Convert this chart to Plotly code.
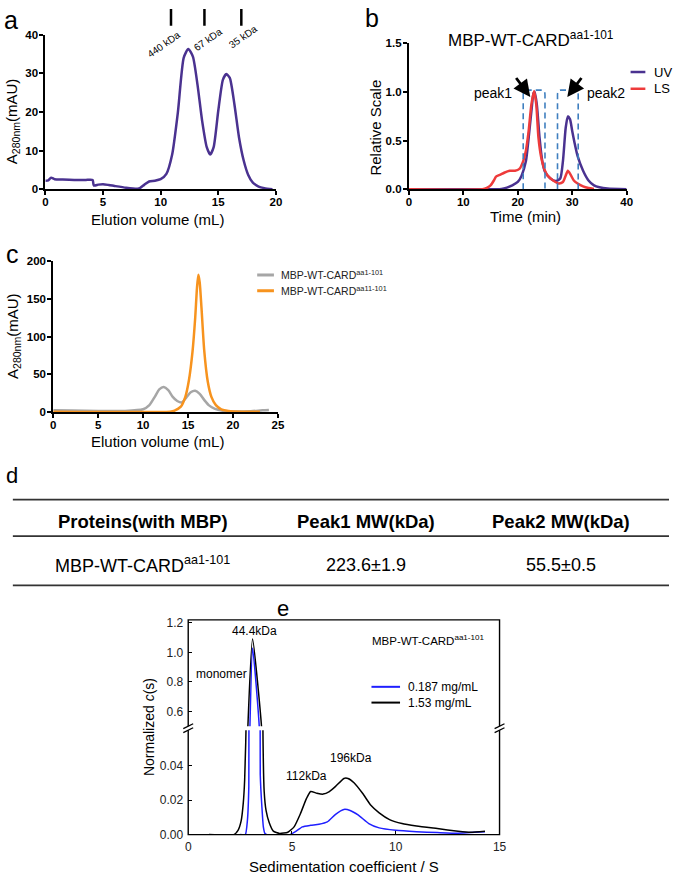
import plotly.graph_objects as go

W, H = 676, 883
def px(x): return x / W
def py(y): return 1 - y / H

FONT = "Liberation Sans, Arial, sans-serif"

# ---------------- data ----------------
# panel a: SEC of MBP-WT-CARD aa1-101
a_vol = [0, 0.25, 0.5, 0.8, 1.5, 2.5, 3.5, 4.1, 4.2, 4.6, 5.0, 5.5, 6.0, 7.0, 8.0, 8.2, 8.6, 9.0, 9.5, 10.0,
         10.5, 11.0, 11.5, 12.0, 12.4, 12.8, 13.2, 13.6, 14.0, 14.3, 14.6, 15.0, 15.4, 15.7, 16.0, 16.4,
         16.8, 17.2, 17.6, 18.0, 18.5, 19.0, 19.7]
a_abs = [2.2, 2.3, 3.0, 2.6, 2.5, 2.4, 2.4, 2.4, 1.0, 1.2, 1.3, 1.1, 0.85, 0.4, 0.15, 0.3, 1.2, 2.0, 2.2, 2.6,
         4.0, 9.0, 20.0, 34.0, 36.3, 34.3, 27.0, 17.7, 10.9, 9.0, 10.9, 20.3, 28.3, 29.8, 28.8, 22.0,
         13.4, 7.5, 3.7, 1.7, 0.7, 0.3, 0.0]
std_vol = [10.9, 13.8, 17.0]
std_labels = ["440 kDa", "67 kDa", "35 kDa"]

# panel b: SEC-MALS
b_time_uv = [0, 16, 17, 18, 19, 20, 20.7, 21.5, 22, 22.5, 22.9, 23.1, 23.5, 24, 24.5, 25, 26, 27, 27.8,
             28.3, 28.8, 29.2, 29.6, 30, 30.5, 31, 32, 33, 34, 35, 36.5, 40]
b_uv = [0, 0, 0.003, 0.017, 0.04, 0.075, 0.14, 0.29, 0.53, 0.8, 0.99, 1.0, 0.87, 0.53, 0.29, 0.18, 0.11,
        0.085, 0.11, 0.29, 0.63, 0.75, 0.72, 0.6, 0.46, 0.34, 0.19, 0.09, 0.04, 0.02, 0.007, 0]
b_time_ls = [0, 13.5, 14.3, 15, 15.6, 16, 16.8, 17.5, 18.5, 19.5, 20.3, 21, 21.5, 22, 22.5, 23, 23.4,
             23.8, 24.3, 25, 25.5, 26.5, 27.5, 28.3, 28.8, 29.2, 29.7, 30.3, 31, 32, 33, 34]
b_ls = [0, 0, 0.013, 0.04, 0.09, 0.13, 0.15, 0.17, 0.19, 0.19, 0.21, 0.29, 0.4, 0.6, 0.87, 1.01, 0.87,
        0.53, 0.33, 0.19, 0.14, 0.09, 0.06, 0.075, 0.14, 0.19, 0.15, 0.09, 0.06, 0.03, 0.013, 0.003]
peak_boxes = [(21.0, 25.0), (27.3, 31.1)]

# panel c: SEC comparison
c_vol_1 = [0, 2, 5, 8, 10, 10.7, 11.3, 11.8, 12.3, 12.8, 13.3, 13.8, 14.3, 14.8, 15.3, 15.8, 16.3, 16.8,
           17.3, 18, 19, 20, 22, 23.3, 24]
c_abs_1 = [2.2, 1.8, 1.3, 1.3, 3.5, 9, 20, 30, 33, 29, 20, 14.5, 12.5, 19, 26, 28, 24, 16, 9, 4, 1.3, 0.5,
           0.9, 2.2, 2.6]
c_vol_2 = [0, 13, 13.5, 14.2, 14.7, 15.1, 15.5, 15.8, 16.0, 16.15, 16.3, 16.5, 16.8, 17.2, 17.6, 18.1,
           18.7, 19.5, 21, 23]
c_abs_2 = [0.4, 0.4, 1.8, 7, 20, 42, 80, 125, 165, 182, 172, 138, 82, 40, 20, 9, 3.5, 1.3, 0.4, 0.4]

# panel d: table
tbl_header = ["Proteins(with MBP)", "Peak1 MW(kDa)", "Peak2 MW(kDa)"]
tbl_row = ["MBP-WT-CARD<sup>aa1-101</sup>", "223.6±1.9", "55.5±0.5"]

# panel e: AUC c(s)
e_s_hi = [1.0, 2.2, 2.4, 2.55, 2.65, 2.72, 2.8, 2.87, 3.1, 3.54, 3.6, 3.66, 3.75, 3.9, 4.1, 4.4, 4.8,
          5.1, 5.4, 5.7, 5.9, 6.2, 6.5, 6.8, 7.1, 7.5, 7.7, 8.0, 8.4, 8.8, 9.2, 9.7, 10.3, 11, 12, 13,
          13.6, 14.3]
e_c_hi = [0, 0, 0.0025, 0.008, 0.018, 0.032, 0.07, 0.48, 1.09, 0.48, 0.06, 0.025, 0.014, 0.007, 0.002,
          0.0007, 0.0014, 0.0045, 0.012, 0.021, 0.025, 0.024, 0.0235, 0.025, 0.028, 0.0326, 0.0326, 0.030,
          0.024, 0.017, 0.0126, 0.0087, 0.0064, 0.005, 0.0035, 0.002, 0.0014, 0.002]
e_s_lo = [2.5, 2.75, 2.85, 2.92, 2.97, 3.1, 3.43, 3.47, 3.55, 3.62, 3.7, 3.8, 4.9, 5.2, 5.5, 5.9, 6.3,
          6.7, 7.1, 7.5, 7.8, 8.2, 8.7, 9.2, 10, 11, 12, 13, 14.3]
e_c_lo = [0, 0, 0.008, 0.028, 0.48, 1.03, 0.48, 0.035, 0.016, 0.0045, 0.0006, 0, 0, 0.002, 0.0045,
          0.0054, 0.006, 0.0074, 0.0118, 0.0146, 0.014, 0.0113, 0.0064, 0.0039, 0.0025, 0.0017, 0.0012,
          0.0008, 0.0016]

# ---------------- figure ----------------
PURPLE = "#4a3290"
RED = "#ee3b3b"
GRAY = "#a6a6a6"
ORANGE = "#f7931e"
BLUE = "#1f1fff"
BOXC = "#3f7fbf"

fig = go.Figure()

def line_trace(x, y, color, width, xa, ya, smoothing=0.6):
    return go.Scatter(x=x, y=y, mode="lines", showlegend=False, hoverinfo="skip",
                      line=dict(color=color, width=width, shape="spline", smoothing=smoothing),
                      xaxis=xa, yaxis=ya)

fig.add_trace(line_trace(a_vol, a_abs, PURPLE, 2.5, "x", "y"))
fig.add_trace(line_trace(b_time_uv, b_uv, PURPLE, 2.5, "x2", "y2"))
fig.add_trace(line_trace(b_time_ls, b_ls, RED, 2.5, "x2", "y2"))
fig.add_trace(line_trace(c_vol_1, c_abs_1, GRAY, 2.5, "x3", "y3"))
fig.add_trace(line_trace(c_vol_2, c_abs_2, ORANGE, 2.5, "x3", "y3"))
for ya in ("y4", "y5"):
    fig.add_trace(line_trace(e_s_lo, e_c_lo, BLUE, 1.5, "x4", ya, 0.5))
    fig.add_trace(line_trace(e_s_hi, e_c_hi, "black", 1.5, "x4", ya, 0.5))

bold_tick = dict(family=FONT, size=11.5, color="black", weight="bold")
def prism_axis(domain, rng, anchor, tickvals, ticktext=None, standoff=0):
    d = dict(domain=domain, range=rng, anchor=anchor, showline=True, linecolor="black", linewidth=2,
             ticks="outside", ticklen=4, tickwidth=2, tickcolor="black", tickvals=tickvals,
             tickfont=bold_tick, showgrid=False, zeroline=False, fixedrange=True,
             ticklabelstandoff=standoff)
    if ticktext is not None:
        d["ticktext"] = ticktext
    return d

e_tick = dict(family=FONT, size=12, color="#222")
def e_axis(domain, rng, anchor, tickvals, ticktext, standoff):
    return dict(domain=domain, range=rng, anchor=anchor, showline=False, ticks="inside", ticklen=4,
                tickwidth=1, tickcolor="black", tickvals=tickvals, ticktext=ticktext, tickfont=e_tick,
                showgrid=False, zeroline=False, fixedrange=True, ticklabelstandoff=standoff)

fig.update_layout(
    width=W, height=H, margin=dict(l=0, r=0, t=0, b=0),
    paper_bgcolor="white", plot_bgcolor="white", showlegend=False,
    xaxis=prism_axis([px(43), px(277)], [0, 20], "y", [0, 5, 10, 15, 20], standoff=-3),
    yaxis=prism_axis([py(186), py(29)], [0, 40], "x", [0, 10, 20, 30, 40], standoff=-1),
    xaxis2=prism_axis([px(412), px(633)], [0, 40], "y2", [0, 10, 20, 30, 40], standoff=-3),
    yaxis2=prism_axis([py(186), py(38)], [0, 1.5], "x2", [0, 0.5, 1.0, 1.5], ["0.0", "0.5", "1.0", "1.5"],
                      standoff=-1),
    xaxis3=prism_axis([px(51), px(279)], [0, 25], "y3", [0, 5, 10, 15, 20, 25], standoff=-3),
    yaxis3=prism_axis([py(412), py(259)], [0, 200], "x3", [0, 50, 100, 150, 200], standoff=-1),
    xaxis4=e_axis([px(188), px(504)], [0, 15], "y4", [0, 5, 10, 15], ["0", "5", "10", "15"], 3),
    yaxis4=e_axis([py(841), py(735)], [0, 0.0606], "x4", [0, 0.02, 0.04], ["0.00", "0.02", "0.04"], 4),
    yaxis5=e_axis([py(731), py(623)], [0.5, 1.22], "x4", [0.6, 0.8, 1.0, 1.2], ["0.6", "0.8", "1.0", "1.2"], 4),
)

shapes = []
ann = []

def txt(x, y, text, size, xanchor="center", yanchor="middle", angle=0, color="black", weight="normal"):
    ann.append(dict(x=px(x), y=py(y), xref="paper", yref="paper", text=text, showarrow=False,
                    xanchor=xanchor, yanchor=yanchor, textangle=angle,
                    font=dict(family=FONT, size=size, color=color, weight=weight)))

def pline(x0, y0, x1, y1, color="black", width=1.5):
    shapes.append(dict(type="line", xref="paper", yref="paper", x0=px(x0), y0=py(y0), x1=px(x1), y1=py(y1),
                       line=dict(color=color, width=width)))

# panel labels
txt(8, 14, "a", 25)
txt(375, 12, "b", 25)
txt(10, 252, "c", 25)
txt(9, 477, "d", 22)
txt(284, 612, "e", 22)

# ---- panel a ----
for v in std_vol:
    shapes.append(dict(type="line", xref="x", yref="paper", x0=v, x1=v, y0=py(20), y1=py(3),
                       line=dict(color="black", width=2.5)))
for (cx, cy), lab in zip([(163, 39), (208, 34), (244, 31)], std_labels):
    txt(cx, cy, lab, 10, angle=-35)
txt(157, 217, "Elution volume (mL)", 15)
txt(9, 117, "A<sub>280nm</sub>(mAU)", 15, angle=-90)

# ---- panel b ----
rx, ry, top = 0.6, 0.05, 1.02
for x0, x1 in peak_boxes:
    path = (f"M {x0},0 L {x0},{top - ry} Q {x0},{top} {x0 + rx},{top} "
            f"L {x1 - rx},{top} Q {x1},{top} {x1},{top - ry} L {x1},0")
    shapes.append(dict(type="path", xref="x2", yref="y2", path=path,
                       line=dict(color=BOXC, width=1.6, dash="6px,4px")))
for (hx, tx) in [(22.3, 19.5), (29.1, 31.9)]:
    ann.append(dict(x=hx, y=0.95, xref="x2", yref="y2", ax=tx, ay=1.16, axref="x2", ayref="y2",
                    text="", showarrow=True, arrowhead=2, arrowsize=1.2, arrowwidth=2.8, arrowcolor="black"))
txt(497, 88, "peak1", 14)
txt(612, 88, "peak2", 14)
txt(536, 34, "MBP-WT-CARD<sup>aa1-101</sup>", 17)
pline(637, 67, 652, 67, PURPLE, 2.5)
pline(637, 84, 652, 84, RED, 2.5)
txt(659, 67, "UV", 13, xanchor="left")
txt(659, 84, "LS", 13, xanchor="left")
txt(530, 214, "Time (min)", 15)
txt(378, 123, "Relative Scale", 15, angle=-90)

# ---- panel c ----
pline(258, 273, 275, 273, GRAY, 3)
pline(258, 289, 275, 289, ORANGE, 3)
txt(280, 273, "MBP-WT-CARD<sup>aa1-101</sup>", 10.5, xanchor="left", color="#222")
txt(280, 289, "MBP-WT-CARD<sup>aa11-101</sup>", 10.5, xanchor="left", color="#222")
txt(157, 442, "Elution volume (mL)", 15)
txt(10, 335, "A<sub>280nm</sub>(mAU)", 15, angle=-90)

# ---- panel d (table) ----
for yy in (501, 538, 588):
    pline(10, yy, 676, yy, "#333", 1.6)
col_x = [142, 368, 566]
for cx, h in zip(col_x, tbl_header):
    txt(cx, 523, h, 18.5, weight="bold")
for cx, r in zip(col_x, tbl_row):
    txt(cx, 567, r, 18)

# ---- panel e ----
shapes.append(dict(type="rect", xref="paper", yref="paper", x0=px(188), x1=px(504), y0=py(841), y1=py(623),
                   line=dict(color="black", width=1.4)))
for bx in (188, 504):
    shapes.append(dict(type="rect", xref="paper", yref="paper", x0=px(bx - 2), x1=px(bx + 2),
                       y0=py(735), y1=py(731), line=dict(width=0), fillcolor="white"))
    pline(bx - 5, 733.5, bx + 5, 728.5, "black", 1.3)
    pline(bx - 5, 737.5, bx + 5, 732.5, "black", 1.3)
txt(255, 634, "44.4kDa", 12)
txt(222, 678, "monomer", 12)
txt(308, 782, "112kDa", 12)
txt(353, 763, "196kDa", 12)
txt(373, 643, "MBP-WT-CARD<sup>aa1-101</sup>", 11.5, xanchor="left")
pline(374, 691, 403, 691, BLUE, 2)
pline(374, 707, 403, 707, "black", 2)
txt(409, 691, "0.187 mg/mL", 12, xanchor="left")
txt(409, 707, "1.53 mg/mL", 12, xanchor="left")
txt(346, 873, "Sedimentation coefficient / S", 15)
txt(148, 732, "Normalized <i>c</i>(s)", 14, angle=-90)

fig.update_layout(shapes=shapes, annotations=ann)
fig.write_html("out.html", config={"displayModeBar": False},
               post_script="document.body.style.margin='0';document.body.style.overflow='hidden';")
